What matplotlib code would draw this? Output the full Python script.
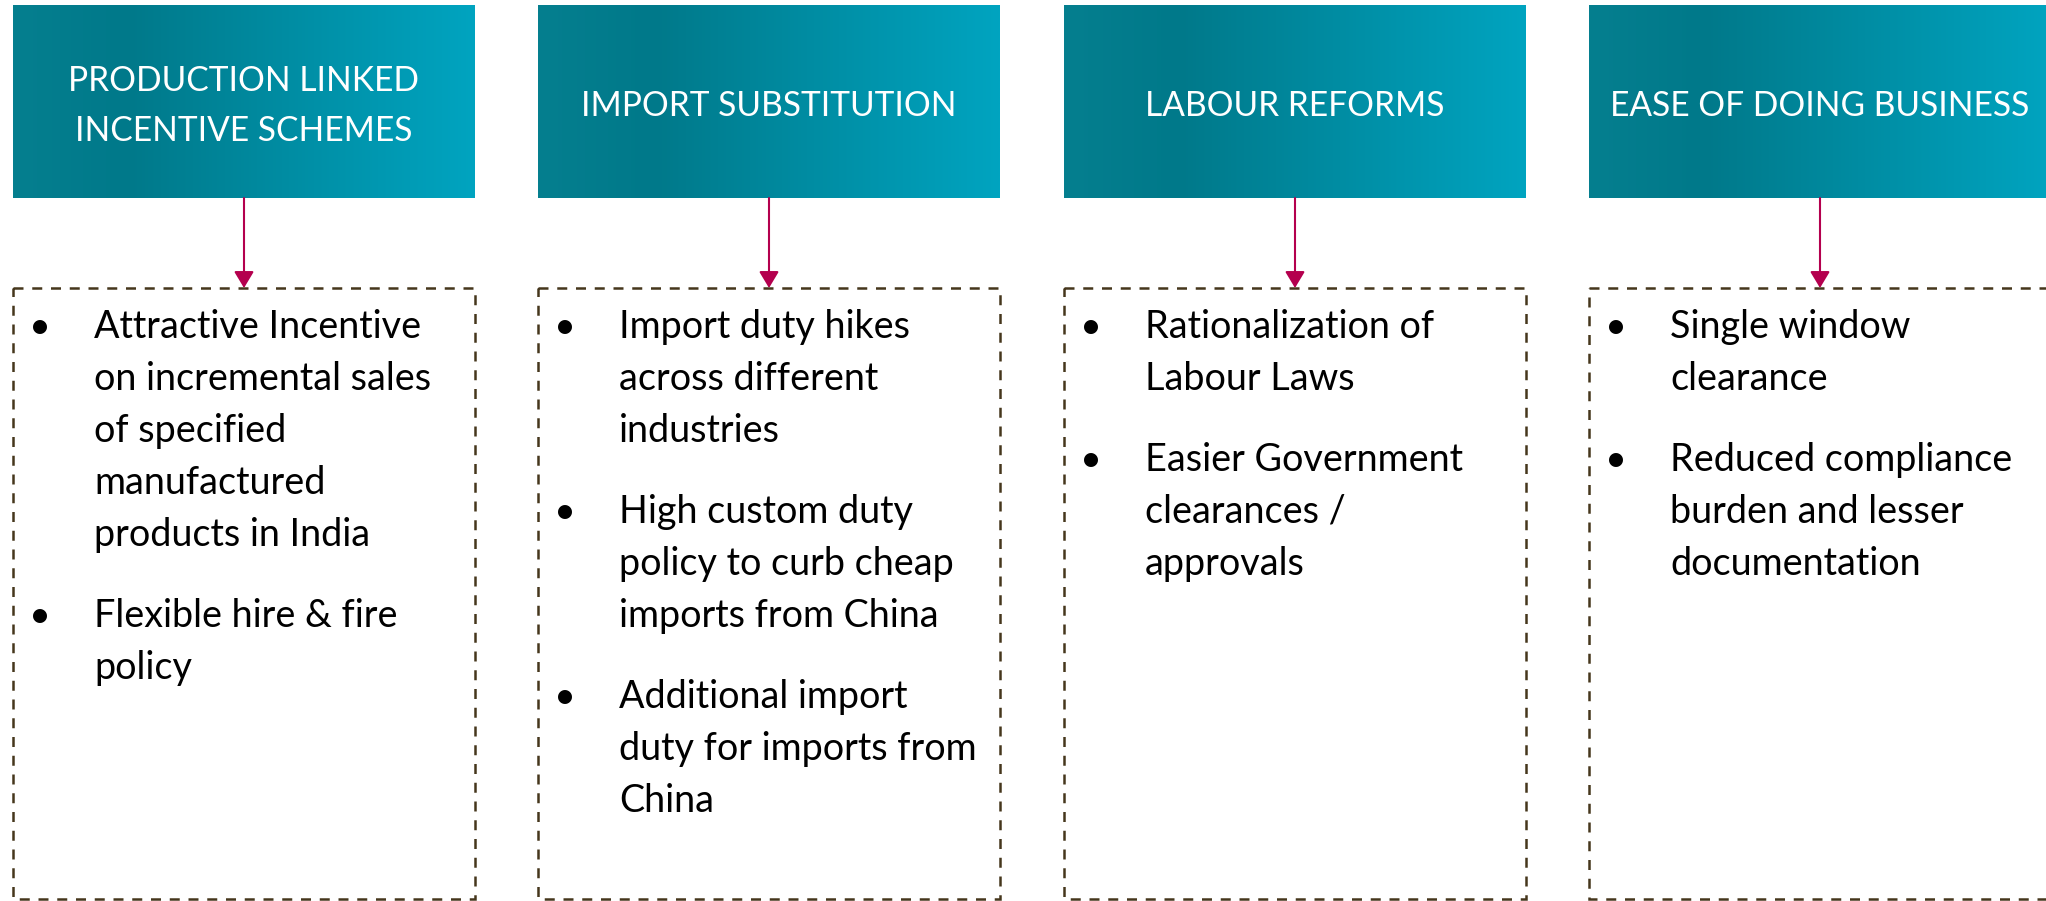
import matplotlib
matplotlib.use("Agg")
import matplotlib.pyplot as plt
from matplotlib.patches import Rectangle
from matplotlib.textpath import TextPath
from matplotlib.font_manager import FontProperties
import numpy as np

# --- content ---
headers = [
    "PRODUCTION LINKED\nINCENTIVE SCHEMES",
    "IMPORT SUBSTITUTION",
    "LABOUR REFORMS",
    "EASE OF DOING BUSINESS",
]
points_pli = [
    "Attractive Incentive\non incremental sales\nof specified\nmanufactured\nproducts in India",
    "Flexible hire & fire\npolicy",
]
points_import = [
    "Import duty hikes\nacross different\nindustries",
    "High custom duty\npolicy to curb cheap\nimports from China",
    "Additional import\nduty for imports from\nChina",
]
points_labour = [
    "Rationalization of\nLabour Laws",
    "Easier Government\nclearances /\napprovals",
]
points_ease = [
    "Single window\nclearance",
    "Reduced compliance\nburden and lesser\ndocumentation",
]
bullets = [points_pli, points_import, points_labour, points_ease]

# --- layout (pixels) ---
W, H = 2046, 901
box_left = [13, 538, 1064, 1589]
box_w = 462
head_top, head_bot = 5, 198
head_mid = 103
head_step = 50
body_top, body_bot = 288, 899
line_step = 52
para_gap = 29
first_base = 338

teal_stops = [0.0, 0.25, 1.0]
teal_cols = np.array([[5, 127, 143], [0, 121, 138], [0, 164, 192]]) / 255
arrow_col = "#B4004E"
dash_col = "#45361C"

font = "Lato"


def fit_size(s, px, weight="normal"):
    fp = FontProperties(family=font, weight=weight)
    w = TextPath((0, 0), s, size=10, prop=fp).get_extents().width
    return 10 * px / (w * 100 / 72)


body_fs = fit_size("on incremental sales", 334)
head_fs = fit_size("EASE OF DOING BUSINESS", 414)

fig = plt.figure(figsize=(W / 100, H / 100), dpi=100)
ax = fig.add_axes([0, 0, 1, 1])
ax.set_xlim(0, W)
ax.set_ylim(H, 0)
ax.axis("off")

xs = np.linspace(0, 1, 256)
grad = np.stack([np.interp(xs, teal_stops, teal_cols[:, k]) for k in range(3)], axis=-1)[None, :, :]

for i, left in enumerate(box_left):
    cx = left + box_w / 2
    # header
    ax.imshow(grad, extent=[left, left + box_w, head_bot, head_top], aspect="auto", zorder=1)
    hl = headers[i].split("\n")
    for k, line in enumerate(hl):
        y = head_mid + (k - (len(hl) - 1) / 2) * head_step
        ax.text(cx, y, line, color="white", fontsize=head_fs, family=font,
                ha="center", va="center_baseline", zorder=3)
    # arrow
    ax.annotate("", xy=(cx, body_top), xytext=(cx, head_bot),
                arrowprops=dict(arrowstyle="-|>,head_length=0.5,head_width=0.3", color=arrow_col,
                                lw=1.5, shrinkA=0, shrinkB=0, mutation_scale=20), zorder=4)
    # dashed body
    ax.add_patch(Rectangle((left, body_top), box_w, body_bot - body_top, fill=False,
                           edgecolor=dash_col, lw=1.8, linestyle=(0, (4.0, 3.5)), zorder=2))
    # bullet text
    n = 0
    for p, item in enumerate(bullets[i]):
        y = first_base + n * line_step + p * para_gap
        ax.text(left + 27, y, "\u2022", fontsize=body_fs, family=font, ha="center", va="baseline")
        for j, line in enumerate(item.split("\n")):
            ax.text(left + 81, y + j * line_step, line, fontsize=body_fs, family=font,
                    ha="left", va="baseline", color="black")
        n += len(item.split("\n"))

fig.savefig("out.png", dpi=100)
